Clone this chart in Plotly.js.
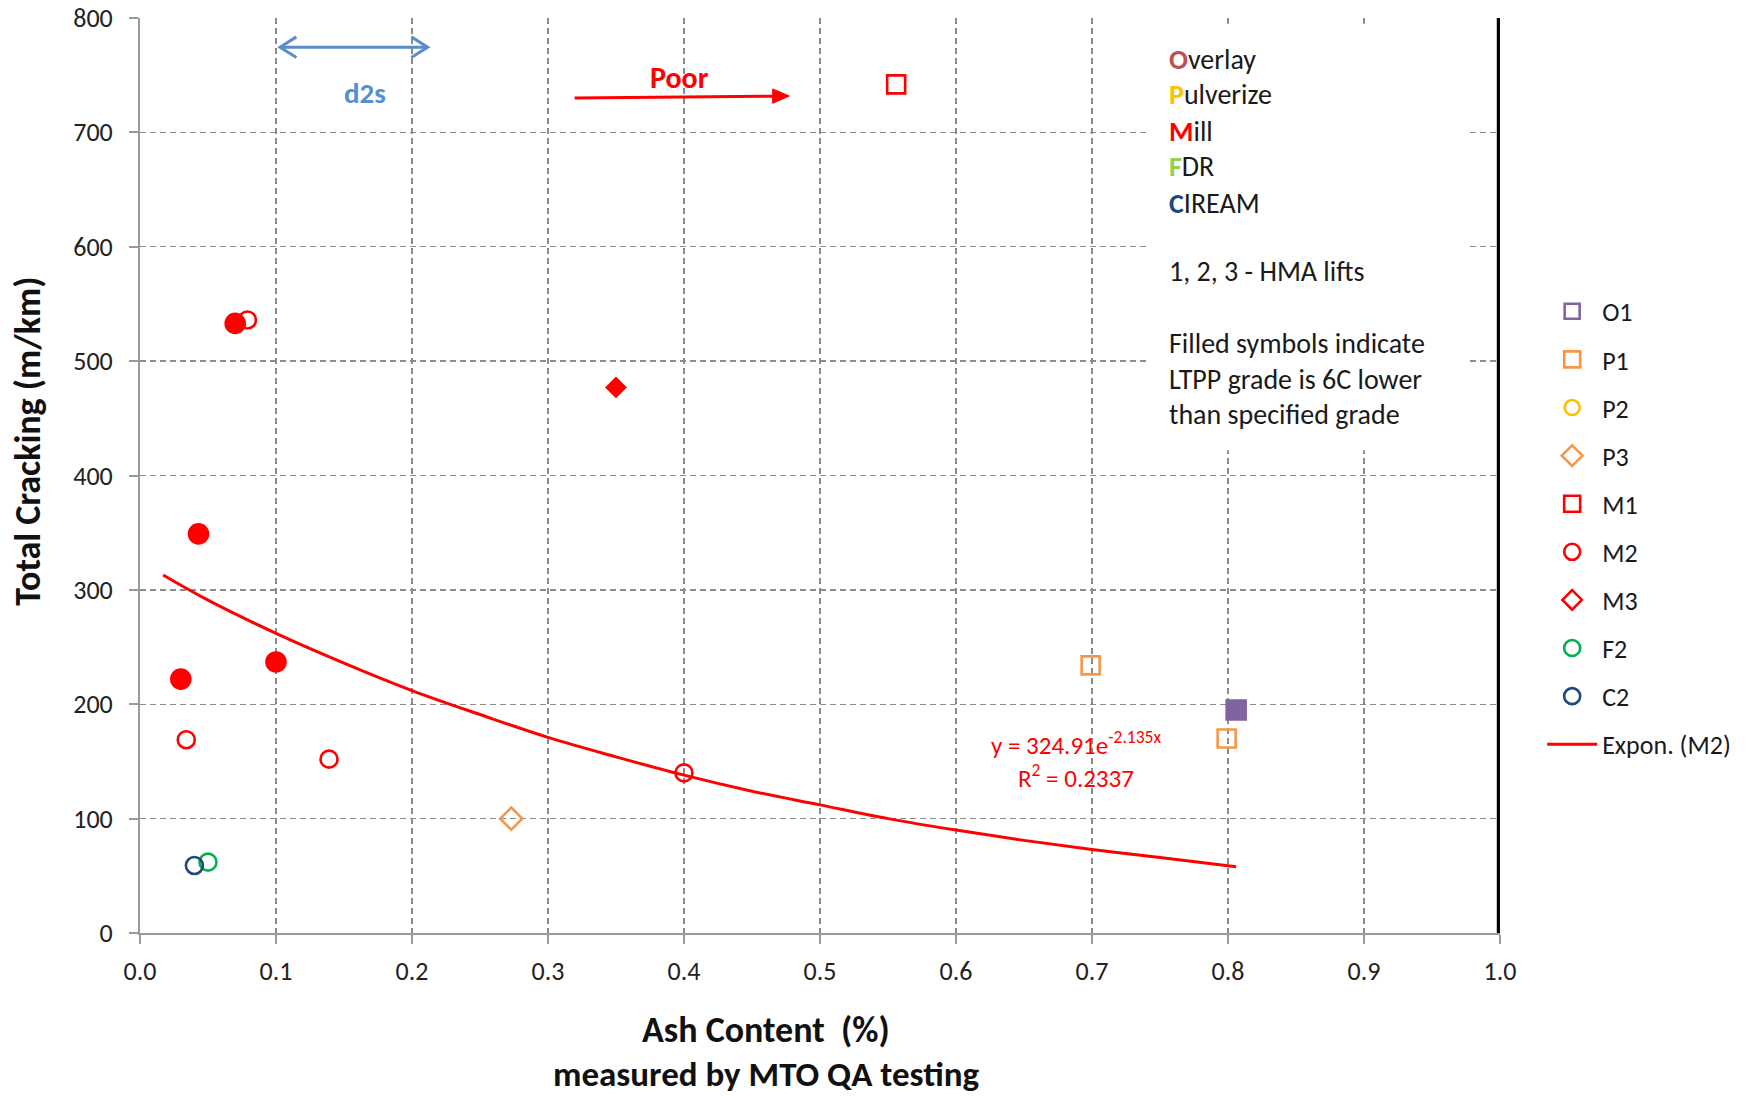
<!DOCTYPE html>
<html>
<head>
<meta charset="utf-8">
<script src="https://cdn.plot.ly/plotly-3.0.1.min.js"></script>
<style>html,body{margin:0;padding:0;background:#fff;}#chart{width:1750px;height:1097px;}</style>
</head>
<body>
<div id="chart"></div>
<script>
// ---- data ----
const m2OpenX   = [0.079, 0.034, 0.139, 0.400];
const m2OpenY   = [536, 169, 152, 140];
const m2FilledX = [0.070, 0.043, 0.030, 0.100];
const m2FilledY = [533, 349, 222, 237];
const m3FilledX = [0.350];
const m3FilledY = [477];
const m1X = [0.556];
const m1Y = [742];
const p1X = [0.699, 0.799];
const p1Y = [234, 170];
const o1FilledX = [0.806];
const o1FilledY = [195];
const p3X = [0.273];
const p3Y = [100];
const f2X = [0.050];
const f2Y = [62];
const c2X = [0.040];
const c2Y = [59];
// exponential trendline (M2)
const trendX = [0.017, 0.05, 0.1, 0.15, 0.2, 0.25, 0.3, 0.35, 0.4, 0.45, 0.5, 0.55, 0.6, 0.65, 0.7, 0.75, 0.806];
const trendY = [313, 291, 262, 236, 212, 191, 171, 154, 138, 124, 112, 100, 90, 81, 73, 66, 58];

const noteLines = [
  '<span style="color:#C0504D;font-weight:bold">O</span>verlay',
  '<span style="color:#FFC000;font-weight:bold">P</span>ulverize',
  '<span style="color:#FF0000;font-weight:bold">M</span>ill',
  '<span style="color:#92D050;font-weight:bold">F</span>DR',
  '<span style="color:#1F497D;font-weight:bold">C</span>IREAM',
  '1, 2, 3 - HMA lifts',
  'Filled symbols indicate',
  'LTPP grade is 6C lower',
  'than specified grade'
];
const noteY = [764, 733, 701, 670, 638, 578, 515, 484, 453];

const FONT = 'Carlito, Lato, "Liberation Sans", sans-serif';
const TXT = '#1a1a1a';

function mk(name, x, y, symbol, color, size, showlegend, group) {
  return {
    type: 'scatter', mode: 'markers', name: name, x: x, y: y,
    showlegend: showlegend, legendgroup: group || name,
    marker: {symbol: symbol, size: size, color: color, line: {color: color, width: 2.6}},
    hoverinfo: 'x+y+name'
  };
}

const traces = [
  mk('O1', [null], [null], 'square-open', '#8064A2', 15, true),
  mk('P1', p1X, p1Y, 'square-open', '#F79646', 18, true),
  mk('P2', [null], [null], 'circle-open', '#FFC000', 15, true),
  mk('P3', p3X, p3Y, 'diamond-open', '#F79646', 17, true),
  mk('M1', m1X, m1Y, 'square-open', '#FF0000', 18, true),
  mk('M2', m2OpenX, m2OpenY, 'circle-open', '#FF0000', 17, true),
  mk('M3', [null], [null], 'diamond-open', '#FF0000', 15, true),
  mk('F2', f2X, f2Y, 'circle-open', '#00B050', 17, true),
  mk('C2', c2X, c2Y, 'circle-open', '#1F497D', 17, true),
  mk('O1 filled', o1FilledX, o1FilledY, 'square', '#8064A2', 19, false, 'O1'),
  mk('M2 filled', m2FilledX, m2FilledY, 'circle', '#FF0000', 19, false, 'M2'),
  mk('M3 filled', m3FilledX, m3FilledY, 'diamond', '#FF0000', 14, false, 'M3'),
  {type: 'scatter', mode: 'lines', name: 'Expon. (M2)', x: trendX, y: trendY,
   line: {color: '#FF0000', width: 3, shape: 'spline'}, legendgroup: 'trend', showlegend: true}
];

const annotations = [];
noteLines.forEach((t, i) => {
  annotations.push({xref: 'x', yref: 'y', x: 0.7555, y: noteY[i], text: t, showarrow: false,
    xanchor: 'left', yanchor: 'middle', font: {family: FONT, size: 28, color: TXT}});
});
annotations.push(
  {xref: 'x', yref: 'y', x: 0.1654, y: 734, text: '<b>d2s</b>', showarrow: false,
   font: {family: FONT, size: 29, color: '#558ED5'}},
  {xref: 'x', yref: 'y', x: 0.3968, y: 748, text: '<b>Poor</b>', showarrow: false,
   font: {family: FONT, size: 30, color: '#FF0000'}},
  {xref: 'x', yref: 'y', x: 0.688, y: 166, text: 'y = 324.91e<sup>-2.135x</sup>', showarrow: false,
   font: {family: FONT, size: 25, color: '#FF0000'}},
  {xref: 'x', yref: 'y', x: 0.688, y: 137, text: 'R<sup>2</sup> = 0.2337', showarrow: false,
   font: {family: FONT, size: 25, color: '#FF0000'}},
  {xref: 'paper', yref: 'paper', x: 0.46, y: -0.106, text: '<b>Ash Content  (%)</b>', showarrow: false,
   xanchor: 'center', yanchor: 'middle', font: {family: FONT, size: 36, color: '#111'}},
  {xref: 'paper', yref: 'paper', x: 0.46, y: -0.154, text: '<b>measured by MTO QA testing</b>', showarrow: false,
   xanchor: 'center', yanchor: 'middle', font: {family: FONT, size: 35, color: '#111'}},
  {xref: 'paper', yref: 'paper', x: -0.0824, y: 0.538, text: '<b>Total Cracking (m/km)</b>', showarrow: false,
   textangle: -90, xanchor: 'center', yanchor: 'middle', font: {family: FONT, size: 36, color: '#111'}}
);

const blue = '#5B8BC9';
const red = '#FF0000';
const shapes = [
  {type: 'rect', xref: 'x', yref: 'y', x0: 0.740, x1: 0.977, y0: 422, y1: 795,
   fillcolor: '#ffffff', line: {width: 0}, layer: 'between'},
  {type: 'line', xref: 'x', yref: 'y', x0: 0.9988, x1: 0.9988, y0: 0, y1: 800, line: {color: '#000', width: 3.2}},
  // d2s double arrow
  {type: 'line', xref: 'x', yref: 'y', x0: 0.1030, x1: 0.2115, y0: 774.5, y1: 774.5, line: {color: blue, width: 3}},
  {type: 'path', xref: 'x', yref: 'y', path: 'M 0.1150,783.5 L 0.1030,774.5 L 0.1150,765.5', line: {color: blue, width: 3}},
  {type: 'path', xref: 'x', yref: 'y', path: 'M 0.1995,783.5 L 0.2115,774.5 L 0.1995,765.5', line: {color: blue, width: 3}},
  // Poor arrow
  {type: 'line', xref: 'x', yref: 'y', x0: 0.3196, x1: 0.467, y0: 730, y1: 731.6, line: {color: red, width: 3}},
  {type: 'path', xref: 'x', yref: 'y', path: 'M 0.4652,738 L 0.4775,731.8 L 0.4652,725.4 Z',
   fillcolor: red, line: {color: red, width: 1}}
];

const axisCommon = {
  showgrid: true, gridcolor: '#8c8c8c', gridwidth: 1.3, griddash: '6px,4px',
  showline: true, linecolor: '#9a9a9a', linewidth: 2, zeroline: false,
  ticks: 'outside', ticklen: 9, tickwidth: 2, tickcolor: '#9a9a9a',
  tickfont: {family: FONT, size: 26, color: '#222'}, fixedrange: true
};

const layout = {
  width: 1750, height: 1097,
  margin: {l: 140, r: 250, t: 18, b: 164},
  paper_bgcolor: '#fff', plot_bgcolor: '#fff',
  font: {family: FONT, size: 22, color: TXT},
  xaxis: Object.assign({}, axisCommon, {range: [0, 1], dtick: 0.1, tick0: 0, tickformat: '.1f', ticklabelstandoff: 5}),
  yaxis: Object.assign({}, axisCommon, {range: [0, 800], dtick: 100, tick0: 0, ticklabelstandoff: 11}),
  showlegend: true,
  legend: {x: 1.031, xanchor: 'left', y: 0.705, yanchor: 'top', traceorder: 'grouped',
           tracegroupgap: 11.3, bgcolor: 'rgba(0,0,0,0)', font: {family: FONT, size: 26, color: TXT},
           itemwidth: 50},
  annotations: annotations,
  shapes: shapes
};

Plotly.newPlot('chart', traces, layout, {displayModeBar: false, staticPlot: true});
</script>
</body>
</html>
